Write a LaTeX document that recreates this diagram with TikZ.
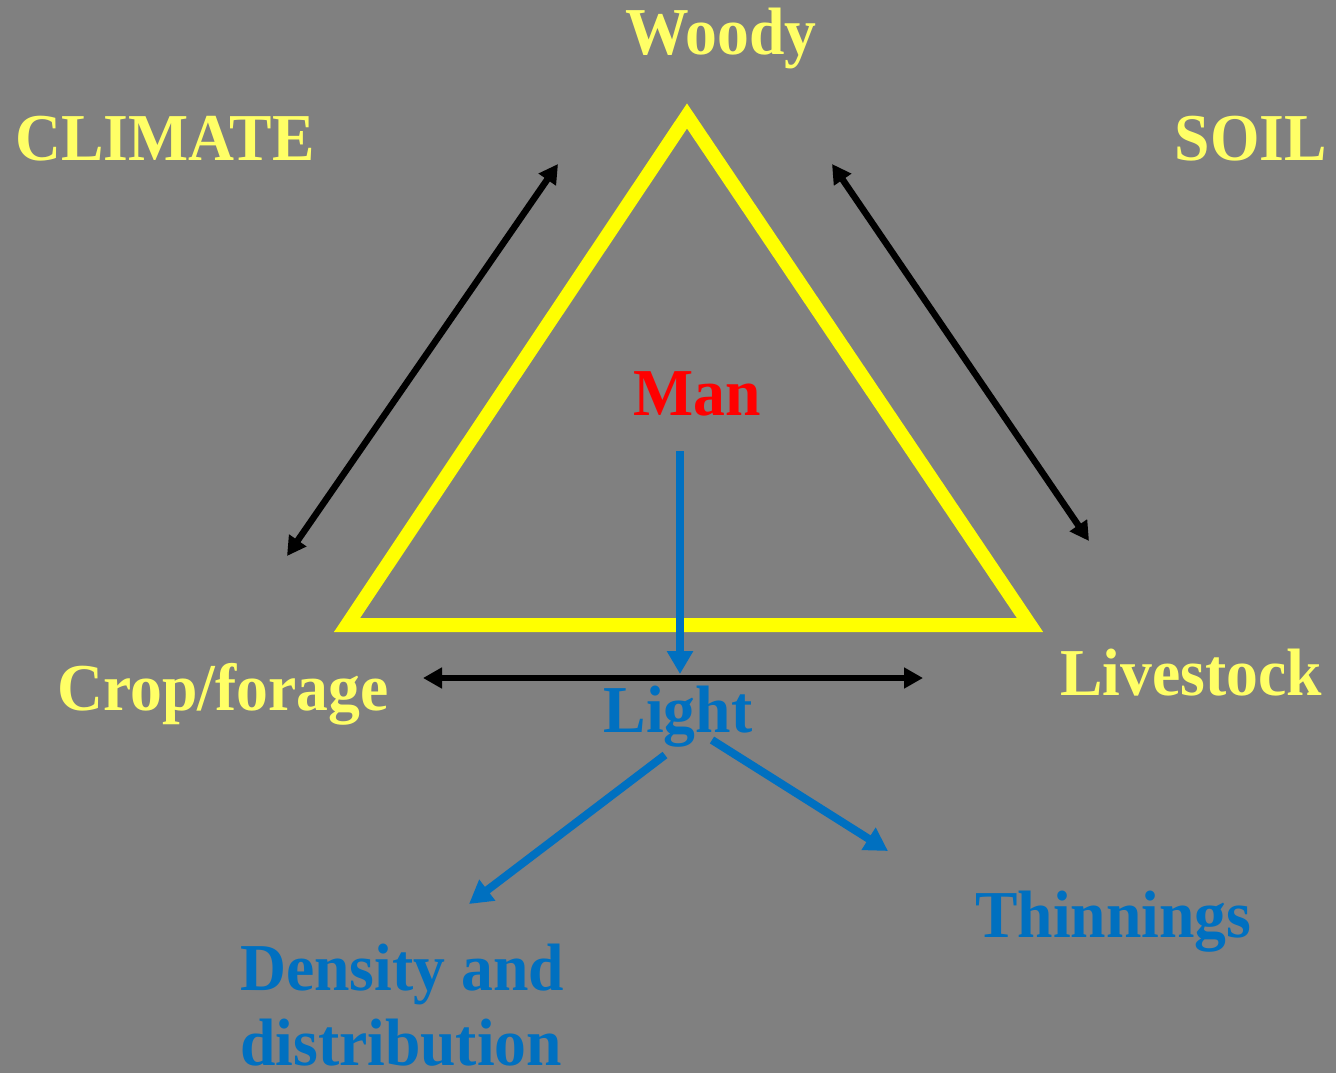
\documentclass[tikz,border=0pt]{standalone}
\usepackage{fontspec}
\setmainfont{Liberation Serif}[FakeStretch=0.95]
\usetikzlibrary{arrows.meta}
\definecolor{bg}{HTML}{808080}
\definecolor{ltyellow}{HTML}{FFFF66}
\definecolor{tri}{HTML}{FFFF00}
\definecolor{myblue}{HTML}{0070C0}
\definecolor{myred}{HTML}{FF0000}
\begin{document}
\begin{tikzpicture}[x=1pt,y=-1pt,
  lbl/.style={inner sep=0pt,font=\fontsize{67}{75}\selectfont\bfseries},
  ylbl/.style={lbl,text=ltyellow},
  blbl/.style={lbl,text=myblue},
  blk/.style={line width=6.5pt,{Triangle[length=19pt,width=20pt]}-{Triangle[length=19pt,width=20pt]}},
  blu/.style={line width=8pt,draw=myblue,-{Triangle[length=23pt,width=25pt]}}]
\fill[bg] (0,0) rectangle (1336,1073);
\useasboundingbox (0,0) rectangle (1336,1073);
% triangle
\coordinate (apex) at (687,116);
\coordinate (bl) at (347,625);
\coordinate (br) at (1030,625);
\draw[tri,line width=14pt,line join=miter] (apex) -- (br) -- (bl) -- cycle;
% labels
\node[ylbl,anchor=base] (woody) at (721,55) {Woody};
\node[ylbl,anchor=base west] (climate) at (15,160) {CLIMATE};
\node[ylbl,anchor=base east] (soil) at (1327,160) {SOIL};
\node[lbl,text=myred,anchor=base] (man) at (697,415) {Man};
\node[ylbl,anchor=base west] (crop) at (57,710) {Crop/forage};
\node[ylbl,anchor=base west] (live) at (1060,695) {Livestock};
\node[blbl,anchor=base] (light) at (678,732) {Light};
\node[blbl,anchor=base west] (thin) at (975,937) {Thinnings};
\node[blbl,anchor=base west,align=left] (dens) at (240,1065) {Density and\\distribution};
% black double arrows
\coordinate (l1) at (558,164);
\coordinate (l2) at (287,556);
\coordinate (r1) at (832,164);
\coordinate (r2) at (1089,541);
\coordinate (h1) at (423,678);
\coordinate (h2) at (923,678);
\draw[blk] (l1) -- (l2);
\draw[blk] (r1) -- (r2);
\draw[blk] (h1) -- (h2);
% blue arrows
\coordinate (m1) at (680,451);
\coordinate (m2) at (680,674);
\coordinate (g1) at (665,755);
\coordinate (g2) at (469,904);
\coordinate (t1) at (712,740);
\coordinate (t2) at (888,851);
\draw[blu] (m1) -- (m2);
\draw[blu] (g1) -- (g2);
\draw[blu] (t1) -- (t2);
\end{tikzpicture}
\end{document}
